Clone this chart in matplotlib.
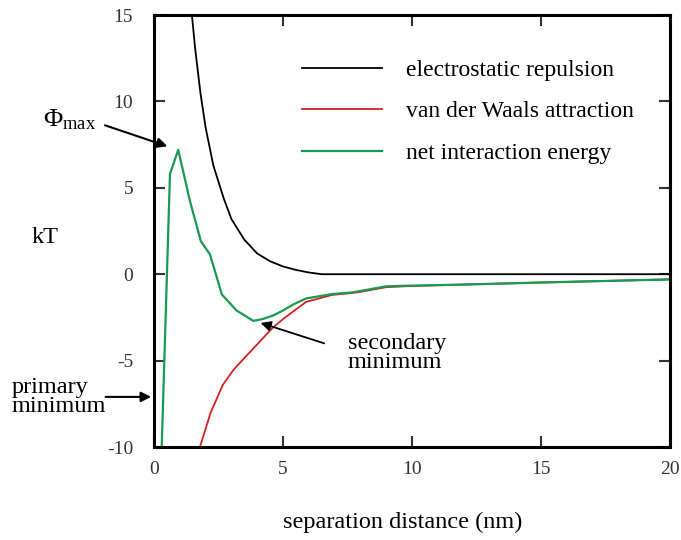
import matplotlib
matplotlib.use("Agg")
import matplotlib.pyplot as plt

plt.rcParams['font.family'] = ['Liberation Serif', 'DejaVu Serif']
plt.rcParams['mathtext.fontset'] = 'custom'
plt.rcParams['mathtext.rm'] = 'Liberation Serif'
plt.rcParams['mathtext.it'] = 'Liberation Serif:italic'
plt.rcParams['axes.unicode_minus'] = False

# electrostatic repulsion
x_rep = [1.47, 1.6, 1.8, 2.0, 2.3, 2.7, 3.0, 3.5, 4.0, 4.5, 5.0, 5.5, 6.0, 6.5, 7.0, 20]
y_rep = [15, 13, 10.5, 8.5, 6.3, 4.4, 3.2, 2.0, 1.2, 0.75, 0.45, 0.25, 0.1, 0.0, 0.0, 0.0]

# van der Waals attraction
x_vdw = [1.78, 2.2, 2.67, 3.1, 3.6, 4.1, 4.6, 5.0, 5.4, 5.9, 6.9, 7.9, 9.0, 10, 12, 15, 20]
y_vdw = [-10, -8.0, -6.4, -5.5, -4.7, -3.9, -3.1, -2.6, -2.15, -1.6, -1.2, -1.05, -0.75, -0.68, -0.6, -0.48, -0.3]

# net interaction energy
x_net = [0.3, 0.62, 0.94, 1.4, 1.82, 2.17, 2.4, 2.63, 3.2, 3.85, 4.2, 4.6, 5.0, 5.4, 5.9, 6.9, 7.7, 9.0, 10, 12, 15, 20]
y_net = [-10, 5.8, 7.2, 4.2, 1.9, 1.15, 0.0, -1.17, -2.1, -2.7, -2.6, -2.4, -2.1, -1.75, -1.4, -1.15, -1.05, -0.7, -0.66, -0.6, -0.48, -0.3]

xticks = [0, 5, 10, 15, 20]
yticks = [-10, -5, 0, 5, 10, 15]

fig = plt.figure(figsize=(6.81, 5.4), dpi=100)
ax = fig.add_axes([0.2261, 0.1722, 0.7577, 0.8])

ax.plot(x_rep, y_rep, color='black', lw=1.3, label='electrostatic repulsion')
ax.plot(x_vdw, y_vdw, color='#d42020', lw=1.3, label='van der Waals attraction')
ax.plot(x_net, y_net, color='#1a9a50', lw=1.6, label='net interaction energy')

ax.set_xlim(0, 20)
ax.set_ylim(-10, 15)
ax.set_xticks(xticks)
ax.set_yticks(yticks)
ax.tick_params(direction='in', length=8, width=1.5, top=True, right=True,
               labelsize=14, colors='#333333')
ax.tick_params(axis='x', pad=10)
ax.tick_params(axis='y', pad=15)
for s in ax.spines.values():
    s.set_linewidth(2.2)

ax.legend(loc='upper left', bbox_to_anchor=(0.245, 0.946), frameon=False,
          fontsize=17, handlelength=3.4, handletextpad=1.0, labelspacing=0.84)

# labels and annotations
fig.text(0.592, 0.033, 'separation distance (nm)', fontsize=17.5, ha='center', va='center')
fig.text(0.066, 0.561, 'kT', fontsize=17.5, ha='center', va='center')
fig.text(0.063, 0.778, r'$\Phi_{\rm max}$', fontsize=19, ha='left', va='center')
ax.annotate('', xy=(0.62, 7.35), xytext=(-2.0, 8.67), annotation_clip=False,
            arrowprops=dict(arrowstyle='-|>', color='black', lw=1.5, mutation_scale=15))
fig.text(0.0176, 0.265, 'primary\nminimum', fontsize=17.5, ha='left', va='center', linespacing=0.88)
ax.annotate('', xy=(0, -7.1), xytext=(-1.98, -7.1), annotation_clip=False,
            arrowprops=dict(arrowstyle='-|>', color='black', lw=1.5, mutation_scale=15))
ax.annotate('', xy=(4.03, -2.77), xytext=(6.7, -4.05),
            arrowprops=dict(arrowstyle='-|>', color='black', lw=1.3, mutation_scale=15))
fig.text(0.511, 0.346, 'secondary\nminimum', fontsize=17.5, ha='left', va='center', linespacing=0.9)

fig.savefig('out.png', dpi=100)
